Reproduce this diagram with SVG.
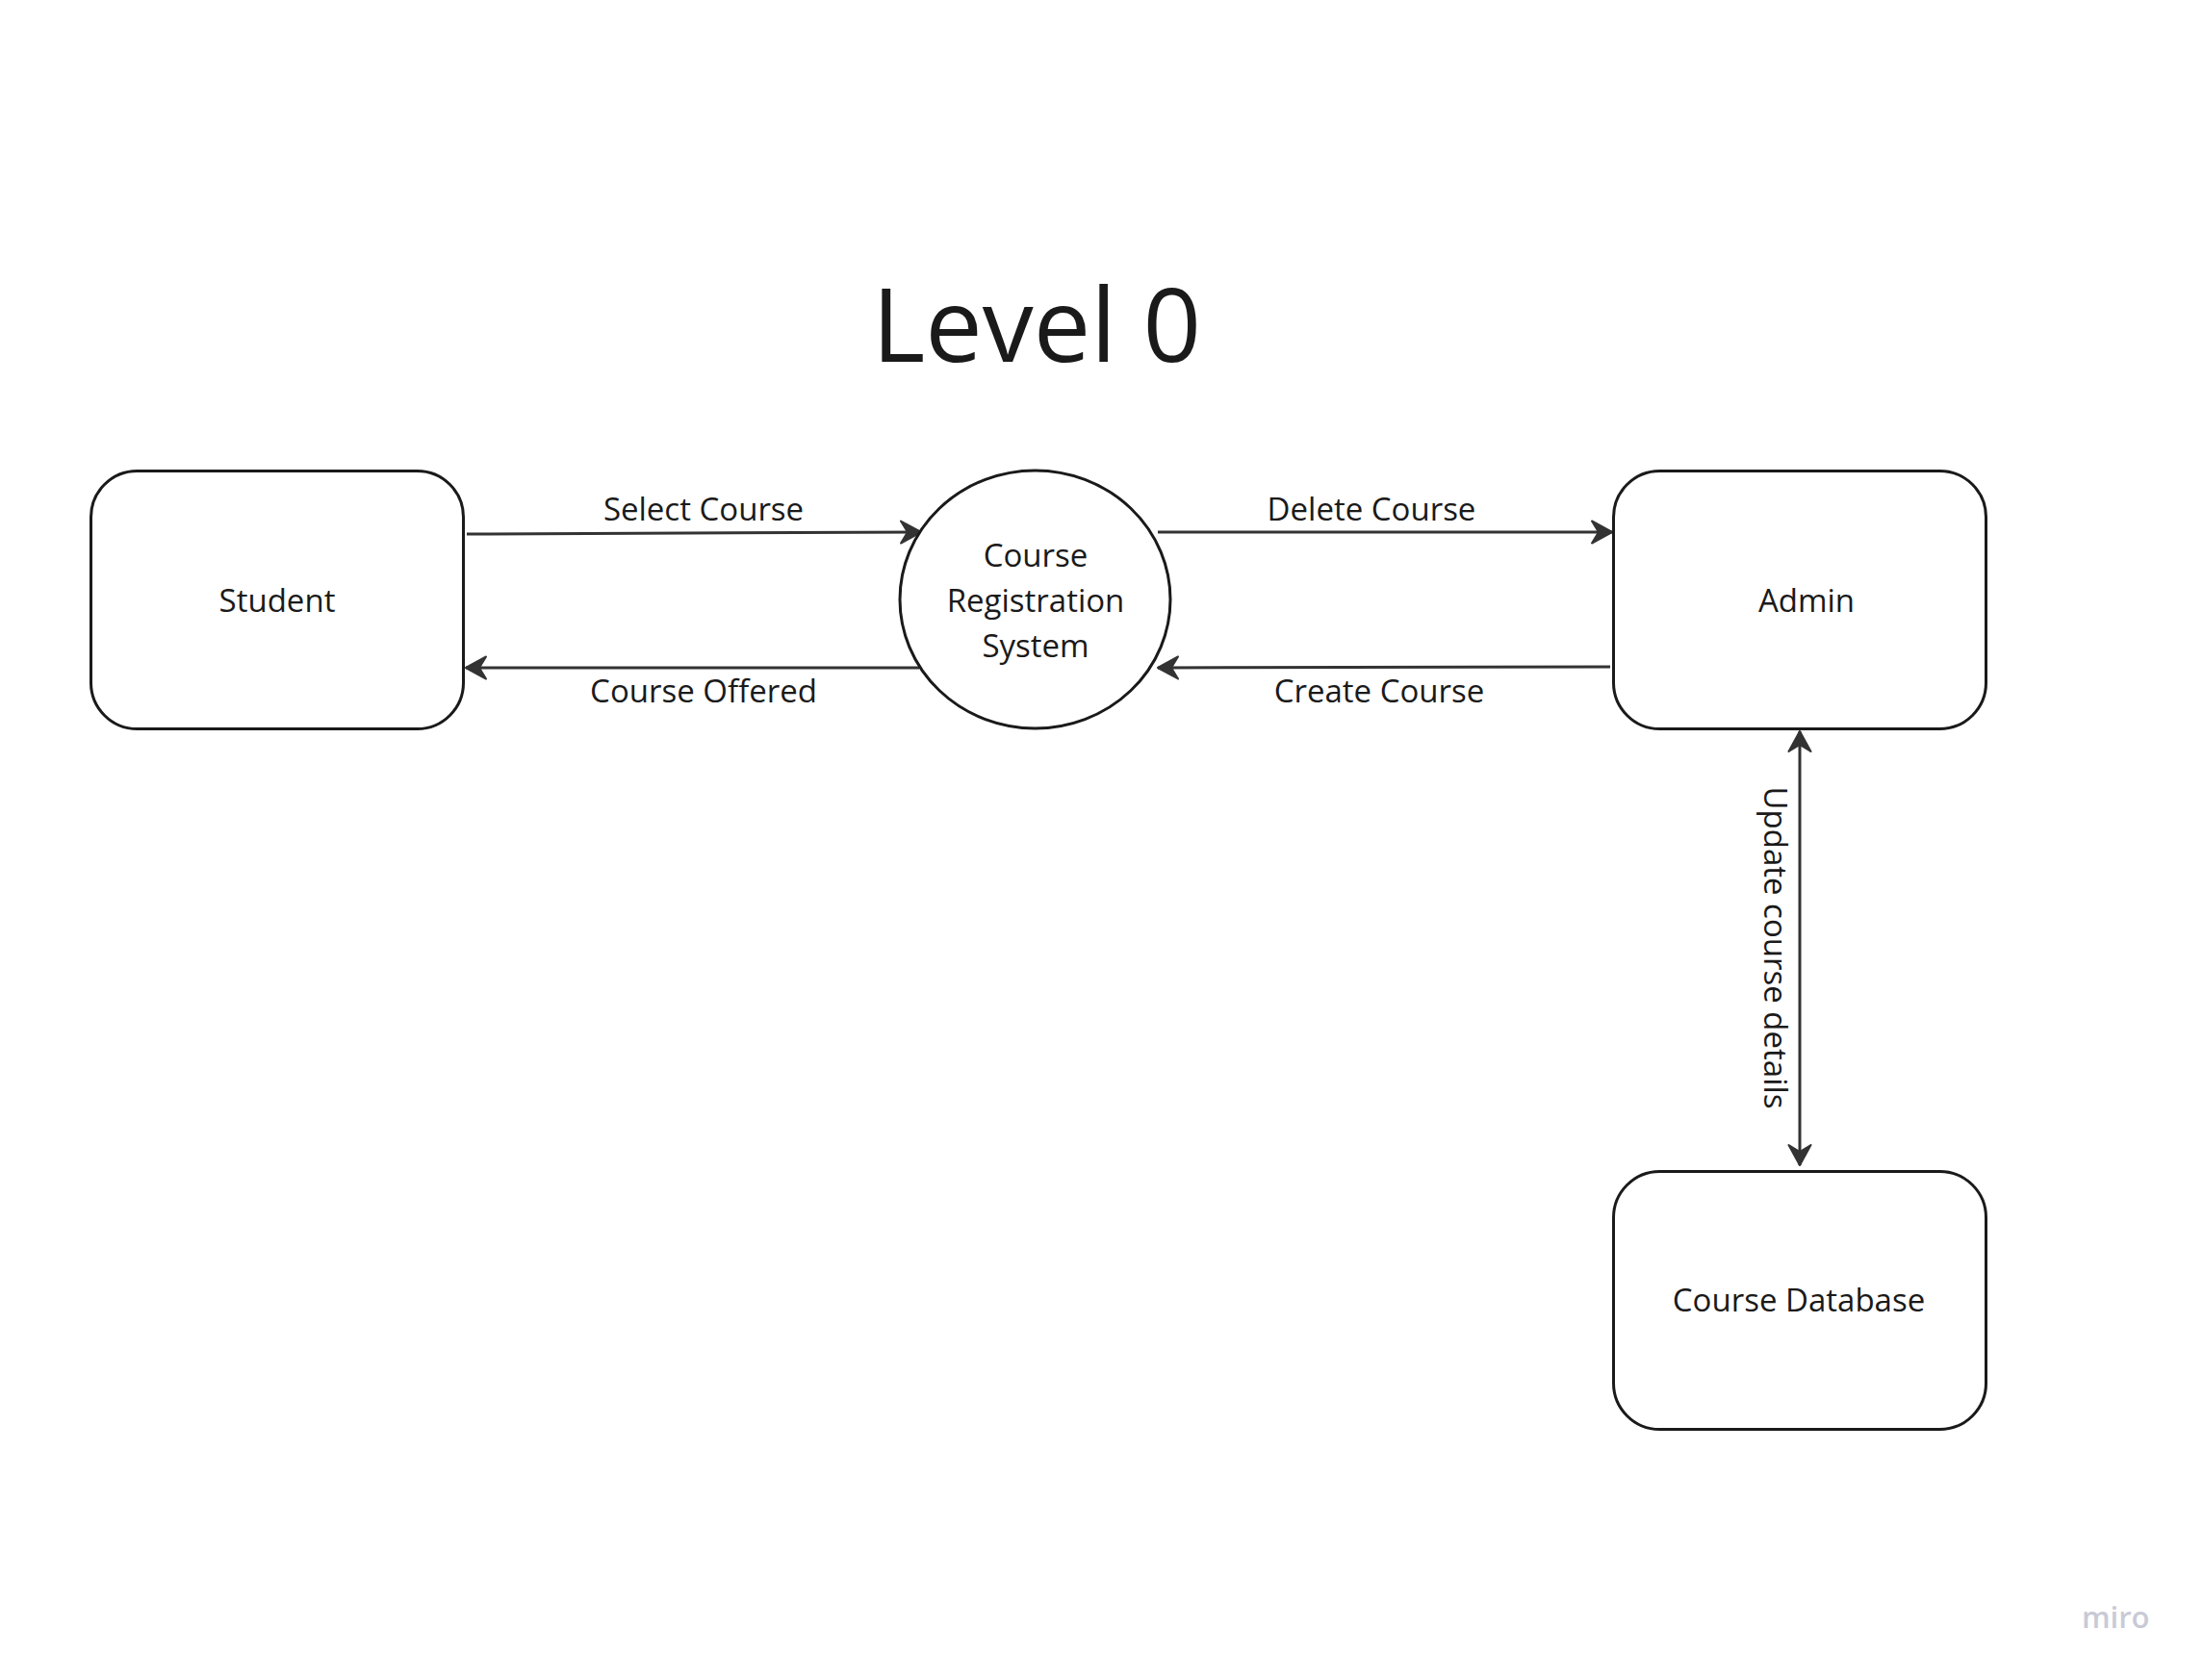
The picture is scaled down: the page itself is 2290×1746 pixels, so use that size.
<svg xmlns="http://www.w3.org/2000/svg" width="2290" height="1746" viewBox="0 0 2290 1746">
  <style>
    .node { fill: #ffffff; stroke: #1a1a1a; stroke-width: 3; }
    .lbl { font-family: "Open Sans", "Liberation Sans", sans-serif; font-size: 33px; fill: #1a1a1a; text-anchor: middle; }
    .edge { fill: none; stroke: #333333; stroke-width: 3; }
    .title { font-family: "Open Sans", "Liberation Sans", sans-serif; font-size: 106px; fill: #1a1a1a; text-anchor: middle; }
    .wm { font-family: "Open Sans", "Liberation Sans", sans-serif; font-size: 31px; font-weight: 600; fill: #c8cad6; }
  </style>
  <defs>
    <marker id="ah" markerUnits="userSpaceOnUse" viewBox="-24 -14 28 28" refX="0" refY="0" markerWidth="28" markerHeight="28" orient="auto-start-reverse">
      <path d="M0,0 L-21,-11.5 L-14,0 L-21,11.5 Z" fill="#333333" stroke="#333333" stroke-width="2" stroke-linejoin="round"/>
    </marker>
  </defs>
  <rect width="2290" height="1746" fill="#ffffff"/>

  <text class="title" x="1077" y="376">Level 0</text>

  <g id="connectors">
    <g id="e-select">
      <path class="edge" d="M485,555 L957,553" marker-end="url(#ah)"/>
      <text class="lbl" x="731" y="541">Select Course</text>
    </g>
    <g id="e-offered">
      <path class="edge" d="M955,694 L484,694" marker-end="url(#ah)"/>
      <text class="lbl" x="731" y="730">Course Offered</text>
    </g>
    <g id="e-delete">
      <path class="edge" d="M1203,553 L1675,553" marker-end="url(#ah)"/>
      <text class="lbl" x="1425" y="541">Delete Course</text>
    </g>
    <g id="e-create">
      <path class="edge" d="M1673,693 L1203,694" marker-end="url(#ah)"/>
      <text class="lbl" x="1433" y="730">Create Course</text>
    </g>
    <g id="e-update">
      <path class="edge" d="M1870,760 L1870,1211" marker-start="url(#ah)" marker-end="url(#ah)"/>
      <text class="lbl" transform="translate(1833,985) rotate(90)" x="0" y="0">Update course details</text>
    </g>
  </g>

  <g id="student">
    <rect class="node" x="94.5" y="489.5" width="387" height="268" rx="48" ry="48"/>
    <text class="lbl" x="288" y="636">Student</text>
  </g>
  <g id="crs">
    <ellipse class="node" cx="1075.5" cy="623" rx="140.5" ry="134"/>
    <text class="lbl" x="1076" y="589">Course</text>
    <text class="lbl" x="1076" y="636">Registration</text>
    <text class="lbl" x="1076" y="683">System</text>
  </g>
  <g id="admin">
    <rect class="node" x="1676.5" y="489.5" width="387" height="268" rx="48" ry="48"/>
    <text class="lbl" x="1877" y="636">Admin</text>
  </g>
  <g id="coursedb">
    <rect class="node" x="1676.5" y="1217.5" width="387" height="268" rx="48" ry="48"/>
    <text class="lbl" x="1869" y="1363">Course Database</text>
  </g>

  <text class="wm" x="2163" y="1692">miro</text>
</svg>
